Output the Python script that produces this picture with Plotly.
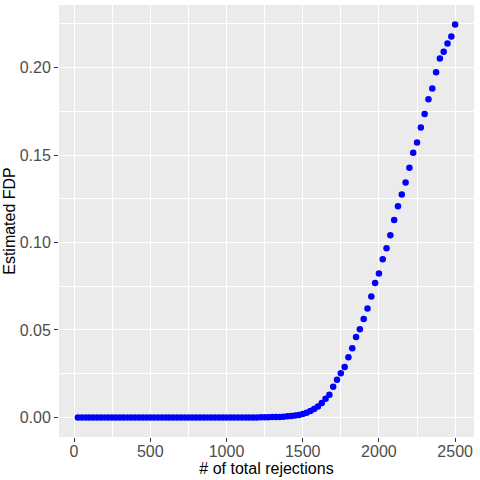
import plotly.graph_objects as go

# number of total rejections
rejections = [
    25, 50, 75, 100, 125, 150, 175, 200, 225, 250,
    275, 300, 325, 350, 375, 400, 425, 450, 475, 500,
    525, 550, 575, 600, 625, 650, 675, 700, 725, 750,
    775, 800, 825, 850, 875, 900, 925, 950, 975, 1000,
    1025, 1050, 1075, 1100, 1125, 1150, 1175, 1200, 1225, 1250,
    1275, 1300, 1325, 1350, 1375, 1400, 1425, 1450, 1475, 1500,
    1525, 1550, 1575, 1600, 1625, 1650, 1675, 1700, 1725, 1750,
    1775, 1800, 1825, 1850, 1875, 1900, 1925, 1950, 1975, 2000,
    2025, 2050, 2075, 2100, 2125, 2150, 2175, 2200, 2225, 2250,
    2275, 2300, 2325, 2350, 2375, 2400, 2425, 2450, 2475, 2500,
]

# estimated FDP
fdp = [
    0.0, 0.0, 0.0, 0.0, 0.0, 0.0, 0.0, 0.0, 0.0, 0.0,
    0.0, 0.0, 0.0, 0.0, 0.0, 0.0, 0.0, 0.0, 0.0, 0.0,
    0.0, 0.0, 0.0, 0.0, 0.0, 0.0, 0.0, 0.0, 0.0, 0.0,
    0.0, 0.0, 0.0, 0.0, 0.0, 0.0, 0.0, 0.0, 0.0, 0.0,
    0.0, 0.0, 0.0, 0.0, 0.0, 0.0, 0.0, 0.0, 0.0001, 0.0001,
    0.0001, 0.0002, 0.0002, 0.0003, 0.0004, 0.0006, 0.0008, 0.0011, 0.0014, 0.0019,
    0.0027, 0.0037, 0.0048, 0.0063, 0.0082, 0.0107, 0.0130, 0.0176, 0.0216, 0.0252,
    0.0288, 0.0344, 0.0395, 0.0460, 0.0504, 0.0562, 0.0623, 0.0692, 0.0768, 0.0823,
    0.0905, 0.0967, 0.1041, 0.1129, 0.1207, 0.1274, 0.1343, 0.1427, 0.1513, 0.1572,
    0.1658, 0.1735, 0.1819, 0.1880, 0.1973, 0.2052, 0.2090, 0.2138, 0.2178, 0.2246,
]

fig = go.Figure(go.Scatter(
    x=rejections, y=fdp, mode="markers",
    marker=dict(color="blue", size=6.5, line=dict(width=0)),
))

axis_style = dict(
    showgrid=True, gridcolor="white", gridwidth=1.1,
    minor=dict(showgrid=True, gridcolor="white", gridwidth=0.5),
    zeroline=False, showline=False, automargin=False,
    ticks="outside", ticklen=4, tickcolor="#333333", tickwidth=1,
    tickfont=dict(family="Liberation Sans", size=16, color="#4D4D4D"),
    title_font=dict(family="Liberation Sans", size=16, color="black"),
)

fig.update_xaxes(
    range=[-98.75, 2623.75], tickvals=[0, 500, 1000, 1500, 2000, 2500],
    minor_tickvals=[250, 750, 1250, 1750, 2250],
    title_text="# of total rejections", title_standoff=0, ticklabelstandoff=-4,
    **axis_style,
)
fig.update_yaxes(
    range=[-0.0112, 0.2358], tickvals=[0, 0.05, 0.10, 0.15, 0.20], tickformat=".2f",
    minor_tickvals=[0.025, 0.075, 0.125, 0.175, 0.225],
    title_text="Estimated FDP", title_standoff=0, **axis_style,
)

fig.update_layout(
    width=480, height=480,
    margin=dict(l=59, r=6, t=5, b=43),
    paper_bgcolor="white", plot_bgcolor="#EBEBEB",
    showlegend=False,
)

# drop the default page margin so the figure sits at the window's corner
fig.write_html("out.html", config={"displayModeBar": False},
               post_script="document.body.style.margin='0';")
